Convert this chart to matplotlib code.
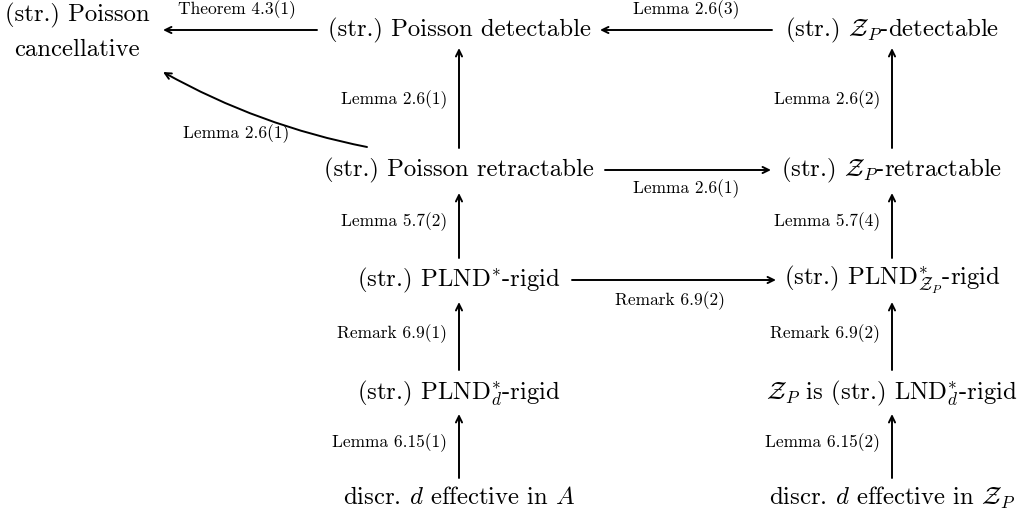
import matplotlib.pyplot as plt

plt.rcParams['font.family'] = 'cmr10'
plt.rcParams['mathtext.fontset'] = 'cm'
plt.rcParams['axes.formatter.use_mathtext'] = True

# implication diagram: nodes and the lemmas that connect them
node_labels = [
    "(str.) Poisson\ncancellative",
    "(str.) Poisson detectable",
    r"(str.) $\mathcal{Z}_P$-detectable",
    "(str.) Poisson retractable",
    r"(str.) $\mathcal{Z}_P$-retractable",
    r"(str.) PLND$^{*}$-rigid",
    r"(str.) PLND$^{*}_{\mathcal{Z}_P}$-rigid",
    r"(str.) PLND$^{*}_{d}$-rigid",
    r"$\mathcal{Z}_P$ is (str.) LND$^{*}_{d}$-rigid",
    r"discr. $d$ effective in $A$",
    r"discr. $d$ effective in $\mathcal{Z}_P$",
]

edge_labels = [
    "Theorem 4.3(1)",
    "Lemma 2.6(3)",
    "Lemma 2.6(1)",
    "Lemma 2.6(1)",
    "Lemma 2.6(2)",
    "Lemma 2.6(1)",
    "Lemma 5.7(2)",
    "Lemma 5.7(4)",
    "Remark 6.9(2)",
    "Remark 6.9(1)",
    "Remark 6.9(2)",
    "Lemma 6.15(1)",
    "Lemma 6.15(2)",
]

# layout (pixel coordinates of the 1025x517 canvas)
col_x = [77, 459, 892]
row_y = [30, 170, 280, 393, 498]
node_pos = [(col_x[0], 32), (col_x[1], row_y[0]), (col_x[2], row_y[0]),
            (col_x[1], row_y[1]), (col_x[2], row_y[1]),
            (col_x[1], row_y[2]), (col_x[2], row_y[2]),
            (col_x[1], row_y[3]), (col_x[2], row_y[3]),
            (col_x[1], row_y[4]), (col_x[2], row_y[4])]

# (tail, head, curvature)
edge_geom = [
    ((317, 30), (163, 30), 0.0),
    ((772, 30), (600, 30), 0.0),
    ((367, 147), (163, 72), -0.08),
    ((col_x[1], 148), (col_x[1], 48), 0.0),
    ((col_x[2], 148), (col_x[2], 48), 0.0),
    ((605, 170), (771, 170), 0.0),
    ((col_x[1], 258), (col_x[1], 193), 0.0),
    ((col_x[2], 258), (col_x[2], 193), 0.0),
    ((572, 280), (776, 280), 0.0),
    ((col_x[1], 370), (col_x[1], 302), 0.0),
    ((col_x[2], 370), (col_x[2], 302), 0.0),
    ((col_x[1], 478), (col_x[1], 414), 0.0),
    ((col_x[2], 478), (col_x[2], 414), 0.0),
]

label_pos = [(237, 10, 'center'), (686, 10, 'center'), (236, 134, 'center'),
             (447, 100, 'right'), (880, 100, 'right'), (686, 189, 'center'),
             (447, 222, 'right'), (880, 222, 'right'), (670, 301, 'center'),
             (447, 334, 'right'), (880, 334, 'right'), (447, 443, 'right'),
             (880, 443, 'right')]

fig = plt.figure(figsize=(10.25, 5.17), dpi=100)
ax = fig.add_axes([0, 0, 1, 1])
ax.set_xlim(0, 1025)
ax.set_ylim(517, 0)
ax.axis('off')

for text, (x, y) in zip(node_labels, node_pos):
    ax.text(x, y, text, fontsize=17.8, ha='center', va='center',
            multialignment='center', linespacing=1.65)

for (tail, head, rad) in edge_geom:
    ax.annotate('', xy=head, xytext=tail,
                arrowprops=dict(arrowstyle='->,head_length=0.45,head_width=0.22',
                                lw=1.4, color='black', shrinkA=0, shrinkB=0,
                                connectionstyle=f'arc3,rad={rad}'))

for text, (x, y, ha) in zip(edge_labels, label_pos):
    ax.text(x, y, text, fontsize=12.5, ha=ha, va='center')

fig.savefig('out.png', dpi=100)
